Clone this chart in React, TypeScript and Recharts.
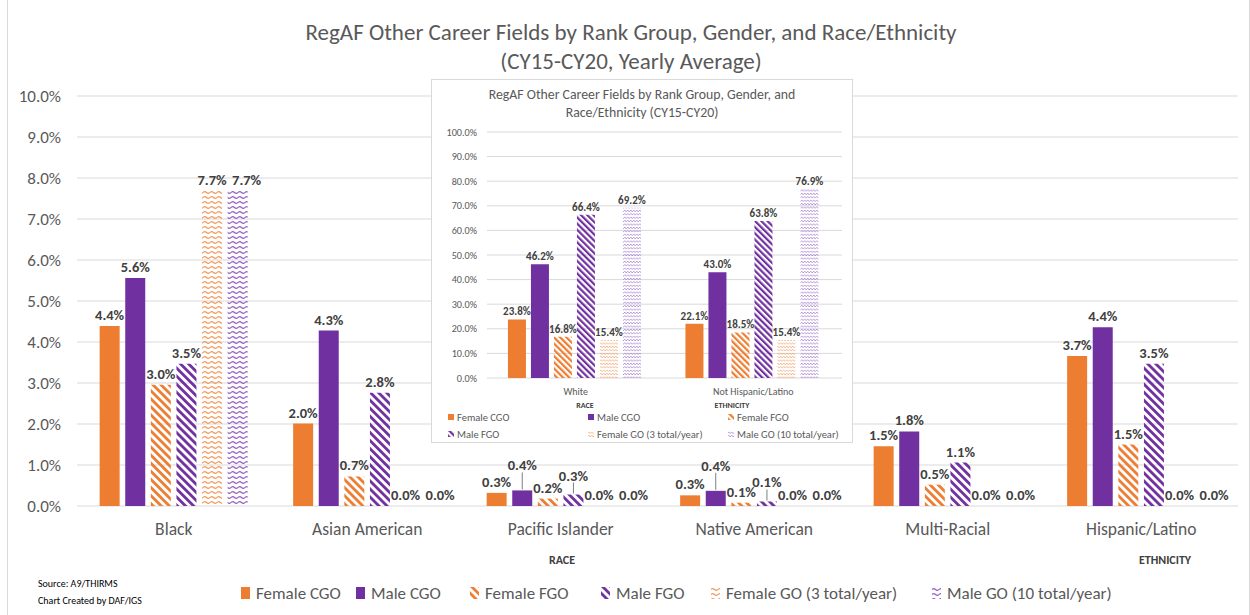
import React from 'react'
import { BarChart, Bar, XAxis, YAxis, CartesianGrid, LabelList, ReferenceLine } from 'recharts'

// main chart: yearly average share (%) by race / ethnicity
const categories = ['Black', 'Asian American', 'Pacific Islander', 'Native American', 'Multi-Racial', 'Hispanic/Latino']
const femaleCGO = [4.39, 2.01, 0.32, 0.26, 1.46, 3.66]
const maleCGO = [5.56, 4.28, 0.38, 0.37, 1.82, 4.36]
const femaleFGO = [2.96, 0.72, 0.18, 0.08, 0.52, 1.5]
const maleFGO = [3.47, 2.76, 0.28, 0.11, 1.06, 3.47]
const femaleGO = [7.69, 0, 0, 0, 0, 0]
const maleGO = [7.69, 0, 0, 0, 0, 0]
const yTicks = [0, 1, 2, 3, 4, 5, 6, 7, 8, 9, 10]

// inset chart: majority groups
const insetCategories = ['White', 'Not Hispanic/Latino']
const insetFemaleCGO = [23.8, 22.1]
const insetMaleCGO = [46.2, 43.0]
const insetFemaleFGO = [16.8, 18.5]
const insetMaleFGO = [66.4, 63.8]
const insetFemaleGO = [15.4, 15.4]
const insetMaleGO = [69.2, 76.9]
const insetTicks = [0, 10, 20, 30, 40, 50, 60, 70, 80, 90, 100]

const seriesNames = ['Female CGO', 'Male CGO', 'Female FGO', 'Male FGO', 'Female GO (3 total/year)', 'Male GO (10 total/year)']

const ORANGE = '#ED7D31'
const PURPLE = '#7030A0'
const FONT = 'Carlito, Calibri, Lato, sans-serif'

// dx / lift: Excel nudges crowded labels aside (lift only applies to tiny bars, with a leader line)
const series = [
  { key: 'fcgo', fill: ORANGE, small: ORANGE, dx: 0, lift: 0 },
  { key: 'mcgo', fill: PURPLE, small: PURPLE, dx: 0, lift: 14 },
  { key: 'ffgo', fill: 'url(#stripeOrange)', small: 'url(#stripeOrangeS)', dx: 0, lift: 0 },
  { key: 'mfgo', fill: 'url(#stripePurple)', small: 'url(#stripePurpleS)', dx: 0, lift: 8 },
  { key: 'fgo', fill: 'url(#waveOrange)', small: 'url(#waveOrangeS)', dx: 0, lift: 0 },
  { key: 'mgo', fill: 'url(#wavePurple)', small: 'url(#wavePurpleS)', dx: 9, lift: 0 },
]

const mainData = categories.map((c, i) => ({
  name: c,
  fcgo: femaleCGO[i],
  mcgo: maleCGO[i],
  ffgo: femaleFGO[i],
  mfgo: maleFGO[i],
  fgo: femaleGO[i],
  mgo: maleGO[i],
}))

const insetData = insetCategories.map((c, i) => ({
  name: c,
  fcgo: insetFemaleCGO[i],
  mcgo: insetMaleCGO[i],
  ffgo: insetFemaleFGO[i],
  mfgo: insetMaleFGO[i],
  fgo: insetFemaleGO[i],
  mgo: insetMaleGO[i],
}))

const pct = (v: any) => `${Number(v).toFixed(1)}%`

function makeLabel(dx: number, lift: number) {
  return (props: any) => {
    const { x, y, width, value } = props
    const v = Number(value)
    const raise = v > 0 && v < 0.5 ? lift : 0
    const cx = Number(x) + Number(width) / 2 + dx
    const ty = Number(y) - 6 - raise
    return (
      <g>
        {raise > 0 && (
          <line x1={cx} x2={cx} y1={ty + 2} y2={Number(y) - 1} stroke="#7f7f7f" strokeWidth={1} />
        )}
        <text x={cx} y={ty} textAnchor="middle" fill="#404040" fontSize={14.5} fontWeight="bold" fontFamily={FONT}>
          {pct(value)}
        </text>
      </g>
    )
  }
}

function Patterns() {
  return (
    <defs>
      <pattern id="stripeOrange" patternUnits="userSpaceOnUse" width="5.7" height="10" patternTransform="rotate(-45)">
        <rect x="0" y="0" width="2.8" height="10" fill={ORANGE} />
      </pattern>
      <pattern id="stripePurple" patternUnits="userSpaceOnUse" width="5.7" height="10" patternTransform="rotate(-45)">
        <rect x="0" y="0" width="2.8" height="10" fill={PURPLE} />
      </pattern>
      <pattern id="waveOrange" patternUnits="userSpaceOnUse" width="7" height="5">
        <path d="M0 2.5 Q1.75 0.6 3.5 2.5 T7 2.5" fill="none" stroke="#F29A5C" strokeWidth={1.2} />
      </pattern>
      <pattern id="wavePurple" patternUnits="userSpaceOnUse" width="7" height="5">
        <path d="M0 2.5 Q1.75 0.6 3.5 2.5 T7 2.5" fill="none" stroke="#955FC4" strokeWidth={1.2} />
      </pattern>
      <pattern id="stripeOrangeS" patternUnits="userSpaceOnUse" width="4.4" height="10" patternTransform="rotate(-45)">
        <rect x="0" y="0" width="2.2" height="10" fill={ORANGE} />
      </pattern>
      <pattern id="stripePurpleS" patternUnits="userSpaceOnUse" width="4.4" height="10" patternTransform="rotate(-45)">
        <rect x="0" y="0" width="2.2" height="10" fill={PURPLE} />
      </pattern>
      <pattern id="waveOrangeS" patternUnits="userSpaceOnUse" width="3" height="3.4">
        <path d="M0 1.7 L0.75 0.9 L1.5 1.7 L2.25 2.5 L3 1.7" fill="none" stroke="#F4A06A" strokeWidth={0.8} />
      </pattern>
      <pattern id="wavePurpleS" patternUnits="userSpaceOnUse" width="3" height="3.4">
        <path d="M0 1.7 L0.75 0.9 L1.5 1.7 L2.25 2.5 L3 1.7" fill="none" stroke="#A277CC" strokeWidth={0.8} />
      </pattern>
    </defs>
  )
}

function Swatch({ fill, w, h }: { fill: string; w: number; h: number }) {
  return (
    <svg width={w} height={h} style={{ display: 'block' }}>
      <rect width={w} height={h} fill={fill} />
    </svg>
  )
}

function InsetChart() {
  const legendCols = [16, 156, 296]
  return (
    <div
      style={{
        position: 'absolute',
        left: 431,
        top: 79,
        width: 420,
        height: 362,
        background: '#fff',
        border: '1px solid #d9d9d9',
        fontFamily: FONT,
      }}
    >
      <div style={{ position: 'absolute', left: 0, top: 6, width: 420, textAlign: 'center', fontSize: 13.8, lineHeight: '18px', color: '#595959' }}>
        RegAF Other Career Fields by Rank Group, Gender, and
        <br />
        Race/Ethnicity (CY15-CY20)
      </div>
      <BarChart
        width={420}
        height={362}
        data={insetData}
        margin={{ top: 52, right: 10, bottom: 44, left: 10 }}
        barCategoryGap="11.8%"
        barGap={5}
      >
        <CartesianGrid vertical={false} stroke="#d9d9d9" />
        <XAxis
          dataKey="name"
          axisLine={false}
          tickLine={false}
          height={20}
          tickMargin={4}
          tick={{ fill: '#595959', fontSize: 10, fontFamily: FONT }}
        />
        <XAxis xAxisId="num" type="number" domain={[0, 2]} allowDataOverflow hide />
        <YAxis
          width={45}
          domain={[0, 100]}
          ticks={insetTicks}
          axisLine={false}
          tickLine={false}
          tickMargin={4}
          tickFormatter={pct}
          tick={{ fill: '#595959', fontSize: 10.2, fontFamily: FONT }}
        />
        {series.map((s) => (
          <Bar key={s.key} dataKey={s.key} fill={s.small} isAnimationActive={false}>
            <LabelList dataKey={s.key} position="top" formatter={pct} fill="#404040" fontSize={11} fontWeight="bold" fontFamily={FONT} offset={4} />
          </Bar>
        ))}
        <ReferenceLine
          xAxisId="num"
          segment={[{ x: 1.014, y: 0 }, { x: 1.014, y: 98 }]}
          stroke="#7f7f7f"
          strokeWidth={3}
        />
      </BarChart>
      <div style={{ position: 'absolute', left: 128, top: 320, width: 50, textAlign: 'center', fontSize: 8, fontWeight: 'bold', color: '#404040' }}>RACE</div>
      <div style={{ position: 'absolute', left: 260, top: 320, width: 80, textAlign: 'center', fontSize: 8, fontWeight: 'bold', color: '#404040' }}>ETHNICITY</div>
      {seriesNames.map((n, i) => (
        <div
          key={n}
          style={{
            position: 'absolute',
            left: legendCols[i % 3],
            top: i < 3 ? 330 : 347,
            display: 'flex',
            alignItems: 'center',
            gap: 3,
            fontSize: 10.5,
            color: '#595959',
            height: 14,
          }}
        >
          <Swatch fill={series[i].small} w={6} h={6} />
          <span>{n}</span>
        </div>
      ))}
    </div>
  )
}

export default function App() {
  const legendLefts = [241, 356, 470, 601, 711, 932]
  return (
    <div style={{ position: 'absolute', left: 0, top: 0, width: 1250, height: 615, background: '#fff', fontFamily: FONT, overflow: 'hidden' }}>
      <div style={{ position: 'absolute', left: 7, top: -1, width: 1241, height: 615, border: '1px solid #d9d9d9' }} />
      <div style={{ position: 'absolute', left: 0, top: 18, width: 1262, textAlign: 'center', fontSize: 23, lineHeight: '29px', color: '#595959' }}>
        RegAF Other Career Fields by Rank Group, Gender, and Race/Ethnicity
        <br />
        (CY15-CY20, Yearly Average)
      </div>
      <div style={{ position: 'absolute', left: 0, top: 0 }}>
        <BarChart
          width={1250}
          height={615}
          data={mainData}
          margin={{ top: 96, right: 12, bottom: 79, left: 17 }}
          barCategoryGap="11.7%"
          barGap={5.6}
        >
          <Patterns />
          <CartesianGrid vertical={false} stroke="#d9d9d9" />
          <XAxis
            dataKey="name"
            axisLine={false}
            tickLine={false}
            height={30}
            tickMargin={11}
            tick={{ fill: '#595959', fontSize: 17.5, fontFamily: FONT }}
          />
          <XAxis xAxisId="num" type="number" domain={[0, 6]} allowDataOverflow hide />
          <YAxis
            width={60}
            domain={[0, 10]}
            ticks={yTicks}
            axisLine={false}
            tickLine={false}
            tickMargin={10}
            tickFormatter={pct}
            tick={{ fill: '#595959', fontSize: 17, fontFamily: FONT }}
          />
          {series.map((s) => (
            <Bar key={s.key} dataKey={s.key} fill={s.fill} minPointSize={0.5} isAnimationActive={false}>
              <LabelList dataKey={s.key} content={makeLabel(s.dx, s.lift)} />
            </Bar>
          ))}
          <ReferenceLine
            xAxisId="num"
            segment={[{ x: 5.03, y: 0 }, { x: 5.03, y: 9.85 }]}
            stroke="#7f7f7f"
            strokeWidth={4}
          />
        </BarChart>
      </div>
      <InsetChart />
      <div style={{ position: 'absolute', left: 532, top: 553, width: 60, textAlign: 'center', fontSize: 12, fontWeight: 'bold', color: '#404040' }}>RACE</div>
      <div style={{ position: 'absolute', left: 1125, top: 553, width: 80, textAlign: 'center', fontSize: 12, fontWeight: 'bold', color: '#404040' }}>ETHNICITY</div>
      <div style={{ position: 'absolute', left: 38, top: 575, fontSize: 10, lineHeight: '17px', color: '#000' }}>
        Source: A9/THIRMS
        <br />
        Chart Created by DAF/IGS
      </div>
      {seriesNames.map((n, i) => (
        <div
          key={n}
          style={{
            position: 'absolute',
            left: legendLefts[i],
            top: 582,
            height: 22,
            display: 'flex',
            alignItems: 'center',
            gap: 6,
            fontSize: 17,
            color: '#595959',
          }}
        >
          <Swatch fill={series[i].fill} w={9} h={12} />
          <span>{n}</span>
        </div>
      ))}
    </div>
  )
}
